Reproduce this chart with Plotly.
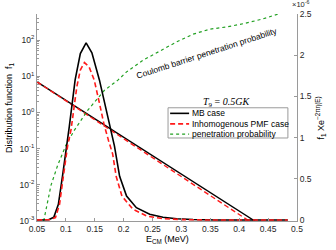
import plotly.graph_objects as go

# MB distribution function (left, log axis) - straight lines in log space
E_mb = [0.05, 0.427]
f_mb = [7.0, 1e-3]
E_pmf = [0.05, 0.417]
f_pmf = [7.0, 1e-3]

# f1 x exp(-2 pi eta) (right axis, units of 1e-6)
E_peak_mb = [0.05, 0.07, 0.079, 0.087, 0.0945, 0.102, 0.106, 0.116, 0.125, 0.135,
             0.145, 0.158, 0.168, 0.176, 0.184, 0.193, 0.205, 0.222, 0.245, 0.268,
             0.292, 0.32, 0.36, 0.484]
g_peak_mb = [0, 0.004, 0.033, 0.19, 0.55, 0.92, 1.14, 1.70, 2.02, 2.15,
             2.03, 1.70, 1.40, 1.14, 0.90, 0.53, 0.29, 0.15, 0.069, 0.033,
             0.016, 0.006, 0.001, 0]
E_peak_pmf = [0.05, 0.072, 0.082, 0.089, 0.096, 0.103, 0.109, 0.119, 0.125, 0.132,
              0.14, 0.149, 0.158, 0.166, 0.174, 0.181, 0.187, 0.197, 0.216, 0.24,
              0.268, 0.3, 0.34, 0.484]
g_peak_pmf = [0, 0.004, 0.03, 0.19, 0.55, 0.90, 1.10, 1.62, 1.82, 1.91,
              1.86, 1.70, 1.42, 1.16, 0.96, 0.80, 0.53, 0.29, 0.13, 0.048,
              0.017, 0.005, 0.001, 0]

# Coulomb barrier penetration probability (left, log axis)
E_pen = [0.0616, 0.0743, 0.0859, 0.100, 0.1145, 0.138, 0.1668, 0.19, 0.205, 0.234,
         0.263, 0.2916, 0.320, 0.349, 0.378, 0.41, 0.44, 0.467]
p_pen = [1e-3, 9.8e-3, 0.035, 0.124, 0.32, 1.16, 4.1, 7.8, 13.2, 28,
         50, 89, 145, 200, 230, 290, 380, 520]

x_ticks = [0.05, 0.1, 0.15, 0.2, 0.25, 0.3, 0.35, 0.4, 0.45, 0.5]
x_labels = ["0.05", "0.1", "0.15", "0.2", "0.25", "0.3", "0.35", "0.4", "0.45", "0.5"]
yl_ticks = [1e-3, 1e-2, 1e-1, 1, 10, 100]
yl_labels = ["10<sup>-3</sup>", "10<sup>-2</sup>", "10<sup>-1</sup>",
             "10<sup>0</sup>", "10<sup>1</sup>", "10<sup>2</sup>"]
yr_ticks = [0, 0.5, 1, 1.5, 2, 2.5]
yr_labels = ["0", "0.5", "1", "1.5", "2", "2.5"]

legend_names = ["MB case", "Inhomogenous PMF case", "penetration probability"]

BLACK = "black"
RED = "#ff1a1a"
GREEN = "#22a022"
AX = "#9a9a9a"
TXT = "#262626"
FONT = "Liberation Sans"

fig = go.Figure()
fig.add_trace(go.Scatter(x=E_peak_mb, y=g_peak_mb, yaxis="y2", mode="lines",
                         line=dict(color=BLACK, width=1.6)))
fig.add_trace(go.Scatter(x=E_peak_pmf, y=g_peak_pmf, yaxis="y2", mode="lines",
                         line=dict(color=RED, width=1.6, dash="5px,3px")))
fig.add_trace(go.Scatter(x=E_mb, y=f_mb, mode="lines",
                         line=dict(color=BLACK, width=1.4)))
fig.add_trace(go.Scatter(x=E_pmf, y=f_pmf, mode="lines",
                         line=dict(color=RED, width=1.4, dash="5px,3px")))
fig.add_trace(go.Scatter(x=E_pen, y=p_pen, mode="lines",
                         line=dict(color=GREEN, width=1.2, dash="dot")))

axis_common = dict(showline=True, linecolor=AX, linewidth=1, ticks="inside",
                   ticklen=3, tickcolor=AX, showgrid=False, zeroline=False,
                   automargin=False,
                   tickfont=dict(family=FONT, size=8.5, color=TXT))

fig.update_layout(
    width=336, height=250,
    margin=dict(l=37, r=39, t=14, b=29),
    plot_bgcolor="white", paper_bgcolor="white",
    showlegend=False,
    font=dict(family=FONT, size=9, color=TXT),
    xaxis=dict(range=[0.05, 0.5], tickvals=x_ticks, ticktext=x_labels, **axis_common),
    yaxis=dict(type="log", range=[-3, 2.72], tickvals=yl_ticks, ticktext=yl_labels,
               minor=dict(ticks="inside", ticklen=1.5, tickcolor=AX, dtick="D1"),
               **axis_common),
    yaxis2=dict(overlaying="y", side="right", range=[-0.012, 2.5],
                tickvals=yr_ticks, ticktext=yr_labels, **axis_common),
)

# manual legend box
x0, x1 = 0.504, 0.965
rows = [0.520, 0.469, 0.420]
styles = [dict(color=BLACK, width=1.6), dict(color=RED, width=1.6, dash="5px,3px"),
          dict(color=GREEN, width=1.2, dash="dot")]
fig.add_shape(type="rect", xref="paper", yref="paper", x0=x0, x1=x1, y0=0.401, y1=0.547,
              line=dict(color=AX, width=1), fillcolor="white", layer="above")
for name, yy, st in zip(legend_names, rows, styles):
    fig.add_shape(type="line", xref="paper", yref="paper", x0=0.512, x1=0.585,
                  y0=yy, y1=yy, line=st, layer="above")
    fig.add_annotation(xref="paper", yref="paper", x=0.588, y=yy, text=name,
                       showarrow=False, xanchor="left", yanchor="middle",
                       font=dict(family=FONT, size=8.5, color="black"))

annotations = [
    dict(x=0.729, y=0.571, text="<i>T</i><sub>9</sub> = <i>0.5GK</i>",
         font=dict(family="Liberation Serif", size=10, color="black")),
    dict(x=0.654, y=0.812, text="Coulomb barrier penetration probability", textangle=-18,
         font=dict(family=FONT, size=8.5, color="black")),
    dict(x=-0.108, y=0.55, text="Distribution function  f<sub>1</sub>", textangle=-90,
         font=dict(family=FONT, size=9, color="black")),
    dict(x=1.092, y=0.50, text="f<sub>1</sub> Xe<sup>\u22122\u03c0\u03b7(E)</sup>", textangle=-90,
         font=dict(family=FONT, size=9, color="black")),
    dict(x=0.5, y=-0.09, text="E<sub>CM</sub> (MeV)",
         font=dict(family=FONT, size=9, color="black")),
]
for a in annotations:
    fig.add_annotation(xref="paper", yref="paper", showarrow=False,
                       xanchor="center", yanchor="middle", **a)
fig.add_annotation(xref="paper", yref="paper", showarrow=False, x=0.973, y=1.015,
                   text="\u00d710<sup>-6</sup>", xanchor="left", yanchor="bottom",
                   font=dict(family=FONT, size=7.5, color=TXT))

# the page body has an 8px default margin; drop it so the figure fills the window
fig.write_html("out.html", config={"displayModeBar": False},
               post_script="document.body.style.margin='0';document.body.style.overflow='hidden';")
